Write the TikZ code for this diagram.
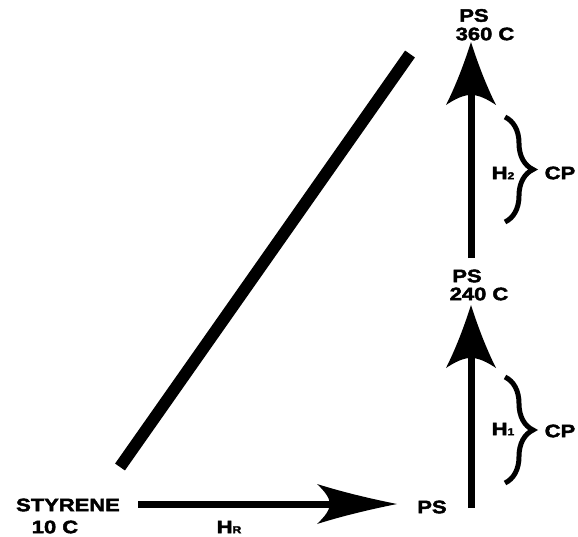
\documentclass[tikz,border=0pt]{standalone}
\usepackage{fontspec}
\newfontfamily\labfont{Liberation Sans Bold}[FakeStretch=1.22, FakeBold=2.5]
\usetikzlibrary{arrows.meta,decorations.pathreplacing}
\pgfdeclarearrow{
  name=Flame,
  parameters={\the\pgfarrowlength,\the\pgfarrowwidth},
  setup code={
    \pgfarrowssettipend{0pt}
    \pgfarrowssetbackend{-\pgfarrowlength}
    \pgfarrowssetlineend{-0.75\pgfarrowlength}
    \pgfarrowssavethe\pgfarrowlength
    \pgfarrowssavethe\pgfarrowwidth
  },
  drawing code={
    \pgfmathsetlengthmacro{\fL}{\pgfarrowlength}
    \pgfmathsetlengthmacro{\fW}{0.5*\pgfarrowwidth}
    \pgfpathmoveto{\pgfpointorigin}
    \pgfpathcurveto{\pgfpoint{-0.35*\fL}{0.28*\fW}}{\pgfpoint{-0.7*\fL}{0.62*\fW}}{\pgfpoint{-\fL}{\fW}}
    \pgfpathcurveto{\pgfpoint{-0.9*\fL}{0.62*\fW}}{\pgfpoint{-0.84*\fL}{0.3*\fW}}{\pgfpoint{-0.84*\fL}{0pt}}
    \pgfpathcurveto{\pgfpoint{-0.84*\fL}{-0.3*\fW}}{\pgfpoint{-0.9*\fL}{-0.62*\fW}}{\pgfpoint{-\fL}{-\fW}}
    \pgfpathcurveto{\pgfpoint{-0.7*\fL}{-0.62*\fW}}{\pgfpoint{-0.35*\fL}{-0.28*\fW}}{\pgfpointorigin}
    \pgfpathclose
    \pgfusepathqfill
  },
  defaults={length=63pt, width=50pt}
}
\tikzset{
  lbl/.style={inner sep=0pt, font=\fontsize{18}{20}\labfont},
  vshaft/.style={line width=7pt, line cap=butt, -{Flame[length=63pt,width=50pt]}},
  hshaft/.style={line width=7pt, line cap=butt, -{Flame[length=80pt,width=40pt]}},
  diag/.style={line width=12pt, line cap=butt},
  bracestyle/.style={line width=5pt, decorate, decoration={brace, amplitude=28pt}},
}
\newcommand{\sub}[1]{{\fontsize{10}{10}\selectfont #1}}
\begin{document}
\begin{tikzpicture}[x=1pt,y=-1pt]
\useasboundingbox (0,0) rectangle (578,536);
% labels
\node[lbl] (sty) at (68,505) {STYRENE};
\node[lbl] (tenc) at (55,527) {10 C};
\node[lbl] (hr) at (229,527) {H\sub{R}};
\node[lbl] (ps0) at (432,507) {PS};
\node[lbl] (ps1) at (467,276) {PS};
\node[lbl] (t240) at (479,294) {240 C};
\node[lbl] (ps2) at (474,15.5) {PS};
\node[lbl] (t360) at (485,34) {360 C};
\node[lbl] (h1) at (503,429) {H\sub{1}};
\node[lbl] (cp1) at (560,431) {CP};
\node[lbl] (h2) at (503,173) {H\sub{2}};
\node[lbl] (cp2) at (560,173) {CP};
% connector end points
\coordinate (hs) at (138,504);
\coordinate (he) at (397,504);
\coordinate (v1s) at (471,508);
\coordinate (v1e) at (471,305);
\coordinate (v2s) at (471,258);
\coordinate (v2e) at (471,42);
\coordinate (ds) at (120,467);
\coordinate (de) at (410,54);
\coordinate (b1t) at (505,377);
\coordinate (b1b) at (505,483);
\coordinate (b2t) at (505,117);
\coordinate (b2b) at (505,222);
% connectors
\draw[hshaft] (hs) -- (he);
\draw[vshaft] (v1s) -- (v1e);
\draw[vshaft] (v2s) -- (v2e);
\draw[diag] (ds) -- (de);
\draw[bracestyle] (b1t) -- (b1b);
\draw[bracestyle] (b2t) -- (b2b);
\end{tikzpicture}
\end{document}
